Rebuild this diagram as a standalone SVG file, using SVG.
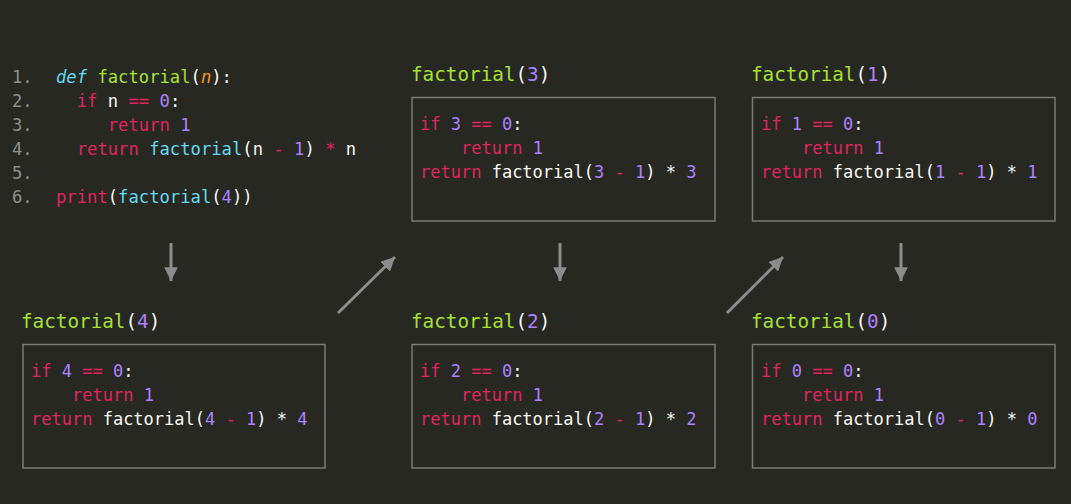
<svg xmlns="http://www.w3.org/2000/svg" width="1071" height="504" viewBox="0 0 1071 504">
<defs>
<style>
text{font-family:"DejaVu Sans Mono","Liberation Mono",monospace;white-space:pre;fill:#f8f8f2}
.code{font-size:17.2px}
.box{font-size:17px}
.title{font-size:19.3px}
.ln{fill:#8f908a}
.kw{fill:#e0245e}
.fn{fill:#a6e22e}
.bi{fill:#66d9ef}
.num{fill:#ae81ff}
.arg{fill:#fd971f;font-style:italic}
.def{fill:#66d9ef;font-style:italic}
.frame{fill:none;stroke:#7a7a76;stroke-width:1.5}
.conn{stroke:#8c8c8c;stroke-width:3;fill:none}
</style>
<marker id="ah" viewBox="0 0 10 10" refX="10" refY="5" markerWidth="4.6" markerHeight="4.6" markerUnits="strokeWidth" orient="auto">
<path d="M0,0 L10,5 L0,10 z" fill="#8c8c8c"/>
</marker>
</defs>
<rect width="1071" height="504" fill="#272822"/>

<g id="source">
<text class="code ln" x="12" y="83">1.</text>
<text class="code ln" x="12" y="107">2.</text>
<text class="code ln" x="12" y="131">3.</text>
<text class="code ln" x="12" y="155">4.</text>
<text class="code ln" x="12" y="179">5.</text>
<text class="code ln" x="12" y="203">6.</text>
<text class="code" x="56" y="83"><tspan class="def">def</tspan> <tspan class="fn">factorial</tspan>(<tspan class="arg">n</tspan>):</text>
<text class="code" x="56" y="107">  <tspan class="kw">if</tspan> n <tspan class="kw">==</tspan> <tspan class="num">0</tspan>:</text>
<text class="code" x="56" y="131">     <tspan class="kw">return</tspan> <tspan class="num">1</tspan></text>
<text class="code" x="56" y="155">  <tspan class="kw">return</tspan> <tspan class="bi">factorial</tspan>(n <tspan class="kw">-</tspan> <tspan class="num">1</tspan>) <tspan class="kw">*</tspan> n</text>
<text class="code" x="56" y="203"><tspan class="kw">print</tspan>(<tspan class="bi">factorial</tspan>(<tspan class="num">4</tspan>))</text>
</g>

<g id="call4">
<text class="title" x="21" y="328"><tspan class="fn">factorial</tspan>(<tspan class="num">4</tspan>)</text>
<rect class="frame" x="23" y="344.5" width="302" height="123.5"/>
<text class="box" x="31" y="377"><tspan class="kw">if</tspan> <tspan class="num">4</tspan> <tspan class="kw">==</tspan> <tspan class="num">0</tspan>:</text>
<text class="box" x="31" y="401">    <tspan class="kw">return</tspan> <tspan class="num">1</tspan></text>
<text class="box" x="31" y="425"><tspan class="kw">return</tspan> factorial(<tspan class="num">4</tspan> <tspan class="kw">-</tspan> <tspan class="num">1</tspan>) * <tspan class="num">4</tspan></text>
</g>

<g id="call3">
<text class="title" x="411" y="81"><tspan class="fn">factorial</tspan>(<tspan class="num">3</tspan>)</text>
<rect class="frame" x="412" y="97.5" width="303" height="123.5"/>
<text class="box" x="420" y="130"><tspan class="kw">if</tspan> <tspan class="num">3</tspan> <tspan class="kw">==</tspan> <tspan class="num">0</tspan>:</text>
<text class="box" x="420" y="154">    <tspan class="kw">return</tspan> <tspan class="num">1</tspan></text>
<text class="box" x="420" y="178"><tspan class="kw">return</tspan> factorial(<tspan class="num">3</tspan> <tspan class="kw">-</tspan> <tspan class="num">1</tspan>) * <tspan class="num">3</tspan></text>
</g>

<g id="call2">
<text class="title" x="411" y="328"><tspan class="fn">factorial</tspan>(<tspan class="num">2</tspan>)</text>
<rect class="frame" x="412" y="344.5" width="303" height="123.5"/>
<text class="box" x="420" y="377"><tspan class="kw">if</tspan> <tspan class="num">2</tspan> <tspan class="kw">==</tspan> <tspan class="num">0</tspan>:</text>
<text class="box" x="420" y="401">    <tspan class="kw">return</tspan> <tspan class="num">1</tspan></text>
<text class="box" x="420" y="425"><tspan class="kw">return</tspan> factorial(<tspan class="num">2</tspan> <tspan class="kw">-</tspan> <tspan class="num">1</tspan>) * <tspan class="num">2</tspan></text>
</g>

<g id="call1">
<text class="title" x="751" y="81"><tspan class="fn">factorial</tspan>(<tspan class="num">1</tspan>)</text>
<rect class="frame" x="752.5" y="97.5" width="302.5" height="123.5"/>
<text class="box" x="761" y="130"><tspan class="kw">if</tspan> <tspan class="num">1</tspan> <tspan class="kw">==</tspan> <tspan class="num">0</tspan>:</text>
<text class="box" x="761" y="154">    <tspan class="kw">return</tspan> <tspan class="num">1</tspan></text>
<text class="box" x="761" y="178"><tspan class="kw">return</tspan> factorial(<tspan class="num">1</tspan> <tspan class="kw">-</tspan> <tspan class="num">1</tspan>) * <tspan class="num">1</tspan></text>
</g>

<g id="call0">
<text class="title" x="751" y="328"><tspan class="fn">factorial</tspan>(<tspan class="num">0</tspan>)</text>
<rect class="frame" x="752.5" y="344.5" width="302.5" height="123.5"/>
<text class="box" x="761" y="377"><tspan class="kw">if</tspan> <tspan class="num">0</tspan> <tspan class="kw">==</tspan> <tspan class="num">0</tspan>:</text>
<text class="box" x="761" y="401">    <tspan class="kw">return</tspan> <tspan class="num">1</tspan></text>
<text class="box" x="761" y="425"><tspan class="kw">return</tspan> factorial(<tspan class="num">0</tspan> <tspan class="kw">-</tspan> <tspan class="num">1</tspan>) * <tspan class="num">0</tspan></text>
</g>

<g id="connectors">
<line class="conn" x1="171" y1="243" x2="171" y2="281" marker-end="url(#ah)"/>
<line class="conn" x1="338" y1="313" x2="395" y2="257" marker-end="url(#ah)"/>
<line class="conn" x1="560" y1="243" x2="560" y2="281" marker-end="url(#ah)"/>
<line class="conn" x1="727" y1="313" x2="783" y2="257" marker-end="url(#ah)"/>
<line class="conn" x1="901" y1="243" x2="901" y2="281" marker-end="url(#ah)"/>
</g>
</svg>
